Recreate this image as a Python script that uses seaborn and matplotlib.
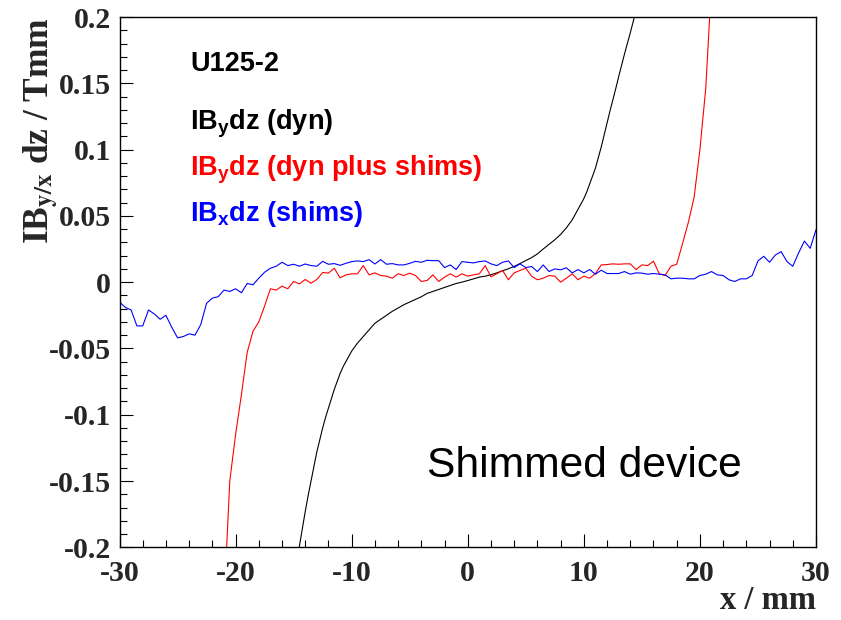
import numpy as np
import pandas as pd
import matplotlib
matplotlib.use("Agg")
import matplotlib.pyplot as plt
from matplotlib.ticker import MultipleLocator
import seaborn as sns

# ---------------- data ----------------
# scan positions (mm), 0.5 mm step from -30 to 30
x_scan = np.linspace(-30, 30, 121)

# IBx dz (shims), x = -30 ... 30
blue_vals = [
    -0.015, -0.019, -0.021, -0.033, -0.033, -0.021, -0.024, -0.028, -0.025, -0.034,
    -0.042, -0.041, -0.039, -0.040, -0.032, -0.016, -0.012, -0.011, -0.006, -0.007,
    -0.005, -0.008, -0.001, -0.002, 0.003, 0.0075, 0.0105, 0.012, 0.015, 0.0125,
    0.0135, 0.012, 0.0137, 0.0125, 0.012, 0.0157, 0.0135, 0.014, 0.0127, 0.0142,
    0.0155, 0.016, 0.0155, 0.017, 0.0137, 0.017, 0.0135, 0.014, 0.013, 0.013,
    0.0142, 0.0157, 0.015, 0.0165, 0.0162, 0.0162, 0.011, 0.013, 0.0095, 0.0155,
    0.015, 0.0145, 0.0155, 0.016, 0.0138, 0.0125, 0.015, 0.016, 0.011, 0.0138,
    0.011, 0.0118, 0.008, 0.013, 0.008, 0.010, 0.0093, 0.0108, 0.007, 0.0095,
    0.007, 0.0095, 0.006, 0.009, 0.0065, 0.0065, 0.0065, 0.008, 0.006, 0.007,
    0.0068, 0.006, 0.0065, 0.006, 0.0055, 0.0025, 0.003, 0.003, 0.0025, 0.0025,
    0.005, 0.006, 0.008, 0.0055, 0.005, 0.0018, 0.0005, 0.0025, 0.0025, 0.005,
    0.016, 0.0195, 0.015, 0.0205, 0.023, 0.0155, 0.012, 0.022, 0.031, 0.0255,
    0.0395,
]

# IBy dz (dyn plus shims), x = -21 ... 21
red_vals = [
    -0.243, -0.150, -0.115, -0.085, -0.053, -0.037, -0.030, -0.018, -0.005, -0.006,
    -0.003, -0.005,
    0.0005, -0.0013, 0.002, -0.0008, 0.002, 0.0073, 0.0068, 0.0105, 0.0033, 0.0055,
    0.0063, 0.0063, 0.0125, 0.0055, 0.007, 0.005, 0.0045, 0.003, 0.0063, 0.005,
    0.0068, 0.005, 0.0005, 0.0013, 0.0055, 0.0005, 0.0038, 0.0063, 0.0038, 0.0063,
    0.0045, 0.0055, 0.0063, 0.0125, 0.004, 0.0063, 0.0088, 0.0018, 0.007, 0.0088,
    0.0105, 0.0045, 0.0018, 0.003, 0.005, 0.0045, 0.0, 0.003, 0.0063, 0.0018,
    0.0045, 0.003, 0.0065, 0.013, 0.0133, 0.0138, 0.0135, 0.0138, 0.0138, 0.0095,
    0.013, 0.0125, 0.0158, 0.0063, 0.005, 0.012, 0.0135, 0.029, 0.045, 0.064,
    0.100, 0.146, 0.225,
]

# IBy dz (dyn): smooth curve, read at these positions
black_x = [
    -15, -14.75, -14.5, -14.25, -14, -13.75, -13.5, -13.25, -13, -12.75,
    -12.5, -12.25, -12, -11.75, -11.5, -11.25, -11, -10.75, -10.5, -10.25,
    -10, -9.5, -9, -8.5, -8, -7.5, -7, -6.5, -6, -5.5,
    -5, -4.5, -4, -3.5, -3, -2.5, -2, -1.5, -1, -0.5,
    0, 0.5, 1, 1.5, 2, 2.5, 3, 3.5, 4, 4.5,
    5, 5.5, 6, 6.5, 7, 7.5, 8, 8.25, 8.5, 8.75,
    9, 9.25, 9.5, 9.75, 10, 10.25, 10.5, 10.75, 11, 11.25,
    11.5, 11.75, 12, 12.25, 12.5, 12.75, 13, 13.25, 13.5, 13.75,
    14, 14.25, 14.5,
]
black_vals = [
    -0.228, -0.213, -0.199, -0.186, -0.173, -0.161, -0.150, -0.139, -0.128, -0.119,
    -0.110, -0.102, -0.095, -0.088, -0.081, -0.075, -0.069, -0.064, -0.060, -0.056,
    -0.052, -0.046, -0.041, -0.036, -0.031, -0.028, -0.025, -0.022, -0.0195, -0.017,
    -0.015, -0.013, -0.011, -0.0085, -0.007, -0.0055, -0.004, -0.0025, -0.001, 0.0,
    0.0012, 0.0025, 0.0038, 0.0045, 0.0056, 0.007, 0.0086, 0.0101, 0.0119, 0.014,
    0.0163, 0.0185, 0.0213, 0.025, 0.0285, 0.032, 0.036, 0.0385, 0.041, 0.044,
    0.047, 0.051, 0.055, 0.059, 0.063, 0.068, 0.074, 0.080, 0.086, 0.094,
    0.102, 0.111, 0.120, 0.129, 0.1375, 0.146, 0.155, 0.1635, 0.172, 0.180,
    0.188, 0.1965, 0.205,
]

x_blue = x_scan
x_red = x_scan[18:18 + len(red_vals)]

xticks = [-30, -20, -10, 0, 10, 20, 30]
xtick_labels = ["-30", "-20", "-10", "0", "10", "20", "30"]
yticks = [-0.2, -0.15, -0.1, -0.05, 0, 0.05, 0.1, 0.15, 0.2]
ytick_labels = ["-0.2", "-0.15", "-0.1", "-0.05", "0", "0.05", "0.1", "0.15", "0.2"]

legend_texts = ["U125-2", r"IB$_{\mathbf{y}}$dz (dyn)",
                r"IB$_{\mathbf{y}}$dz (dyn plus shims)", r"IB$_{\mathbf{x}}$dz (shims)"]
legend_colors = ["black", "black", "#ff0000", "#0000ff"]

# ---------------- style ----------------
sns.set_theme(style="white")
plt.rcParams["font.family"] = ["Liberation Serif", "DejaVu Serif"]
plt.rcParams["axes.unicode_minus"] = False
plt.rcParams["mathtext.fontset"] = "custom"
plt.rcParams["mathtext.bf"] = "Liberation Sans:bold"
plt.rcParams["mathtext.rm"] = "Liberation Sans:bold"

W, H = 841, 620
fig = plt.figure(figsize=(W / 100, H / 100), dpi=100)
L, R, T, B = 119.5, 816, 17, 547.3
ax = fig.add_axes([L / W, (H - B) / H, (R - L) / W, (B - T) / H])

df_black = pd.DataFrame({"x": black_x, "v": black_vals})
df_red = pd.DataFrame({"x": x_red, "v": red_vals})
df_blue = pd.DataFrame({"x": x_blue, "v": blue_vals})

sns.lineplot(data=df_black, x="x", y="v", ax=ax, color="black", linewidth=0.8,
             estimator=None, sort=False)
sns.lineplot(data=df_red, x="x", y="v", ax=ax, color="#ff0000", linewidth=0.8,
             estimator=None, sort=False)
sns.lineplot(data=df_blue, x="x", y="v", ax=ax, color="#0000ff", linewidth=0.8,
             estimator=None, sort=False)

ax.set_xlim(-30, 30)
ax.set_ylim(-0.2, 0.2)
ax.set_xticks(xticks, labels=xtick_labels)
ax.set_yticks(yticks, labels=ytick_labels)
ax.xaxis.set_minor_locator(MultipleLocator(2))
ax.yaxis.set_minor_locator(MultipleLocator(0.01))
ax.tick_params(which="both", direction="in", top=False, right=False,
               bottom=True, left=True, color="black", width=0.8)
ax.tick_params(which="major", length=9.5)
ax.tick_params(which="minor", length=4.8)
ax.tick_params(axis="x", which="major", pad=9, labelsize=21.5)
ax.tick_params(axis="y", which="major", pad=6, labelsize=21.5)
for lab in ax.get_xticklabels() + ax.get_yticklabels():
    lab.set_fontweight("bold")
    lab.set_family("Liberation Serif")

for s in ax.spines.values():
    s.set_color("black")
    s.set_linewidth(1.0)

ax.set_xlabel("x / mm", fontsize=23.5, fontweight="bold", family="Liberation Serif",
              loc="right")
ax.xaxis.set_label_coords(1.0, -0.072)
ax.xaxis.label.set_va("top")
ax.xaxis.label.set_ha("right")

ax.set_ylabel(r"IB$_{\mathbf{y/x}}$ dz / Tmm", fontsize=25.5, fontweight="bold",
              family="Liberation Serif", loc="top", math_fontfamily="stix")
ax.yaxis.set_label_coords(-0.085, 1.0)

# in-plot texts
baselines = [71, 130, 175, 221.5]
for txt, col, yb in zip(legend_texts, legend_colors, baselines):
    fig.text(190 / W, 1 - yb / H, txt, color=col, fontsize=19.5, fontweight="bold",
             family="Liberation Sans", va="baseline", ha="left")

fig.text(427 / W, 1 - 477 / H, "Shimmed device", color="black", fontsize=30.7,
         family="Liberation Sans", va="baseline", ha="left")

fig.savefig("out.png", dpi=100, facecolor="white")
